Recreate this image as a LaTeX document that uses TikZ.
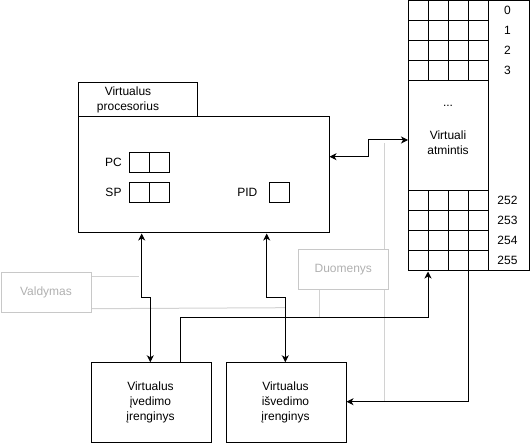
\documentclass[tikz,border=0pt]{standalone}
\usepackage{fontspec}
\setmainfont{Liberation Sans}
\usetikzlibrary{arrows.meta,calc}
\definecolor{gbord}{HTML}{C8C8C8}
\definecolor{gtext}{HTML}{B0B0B0}
\definecolor{gline}{HTML}{D2D2D2}
\begin{document}
\begin{tikzpicture}[x=1pt,y=-1pt,line width=1pt,
  box/.style={draw=black,rectangle,inner sep=0pt,anchor=north west},
  ghost/.style={draw=gbord,rectangle,inner sep=0pt,anchor=north west,minimum width=90pt,minimum height=40pt},
  lbl/.style={font=\fontsize{12}{15}\selectfont,align=center,inner sep=0pt},
  glbl/.style={lbl,text=gtext},
  conn/.style={draw=black,line width=1pt},
  glink/.style={draw=gline,line width=1pt},
  >={Stealth[length=7pt,width=7pt,inset=2pt]}
]
\useasboundingbox (0,0) rectangle (530,446);

% memory
\node[box,minimum width=121pt,minimum height=270pt] (mem) at (408,0.5) {};
\draw (488,0.5) -- (488,270.5);
\foreach \y in {20.5,40.5,60.5,80.5,190.5,210.5,230.5,250.5}
  \draw (408,\y) -- (488,\y);
\foreach \x in {428,448,468}{
  \draw (\x,0.5) -- (\x,80.5);
  \draw (\x,190.5) -- (\x,270.5);
}
\foreach \t/\y in {0/10.5,1/30.5,2/50.5,3/70.5,252/200.5,253/220.5,254/240.5,255/260.5}
  \node[lbl] (m\t) at (507.5,\y) {\t};
\node[lbl] (dots) at (448,106) {...};
\node[lbl] (memtxt) at (448,142.5) {Virtuali\\atmintis};

% processor
\node[box,minimum width=118.5pt,minimum height=34pt] (tab) at (78,82.5) {};
\node[lbl] (tabtxt) at (128,99.5) {Virtualus\\procesorius};
\node[box,minimum width=250.5pt,minimum height=116pt] (proc) at (78,116.5) {};
\node[lbl] (pclbl) at (113.5,162.3) {PC};
\node[lbl] (splbl) at (113.5,192.3) {SP};
\node[lbl] (pidlbl) at (247.3,192.3) {PID};
\node[box,minimum width=20pt,minimum height=20pt] (pcA) at (128.7,152.3) {};
\node[box,minimum width=20pt,minimum height=20pt] (pcB) at (148.7,152.3) {};
\node[box,minimum width=20pt,minimum height=20pt] (spA) at (128.7,182.3) {};
\node[box,minimum width=20pt,minimum height=20pt] (spB) at (148.7,182.3) {};
\node[box,minimum width=20pt,minimum height=20pt] (pid) at (268.7,182.3) {};

% devices
\node[box,minimum width=120pt,minimum height=80pt] (in) at (90.5,362.3) {};
\node[lbl] (intxt) at (150.5,402) {Virtualus\\įvedimo\\įrenginys};
\node[box,minimum width=120pt,minimum height=80pt] (out) at (225.5,362.3) {};
\node[lbl] (outtxt) at (285.5,402) {Virtualus\\išvedimo\\įrenginys};

% gray labels
\node[ghost] (vald) at (1,272.3) {};
\node[glbl] (valdtxt) at (46,292.3) {Valdymas};
\node[ghost] (duom) at (298.3,249.3) {};
\node[glbl] (duomtxt) at (343.3,269.3) {Duomenys};

% gray links
\draw[glink] ($(vald.north east)+(0,4)$) -- (139.3,276.3);
\draw[glink] ($(vald.south east)+(0,-4.6)$) -- (285,307.7);
\draw[glink] ($(duom.south west)+(21,0)$) -- (319.3,317.3);
\coordinate (gtop) at (384.5,143.3);
\coordinate (gbot) at (384.5,401.7);
\draw[glink] (gtop) -- (gtop |- duom.north);
\draw[glink] (gbot |- duom.south) -- (gbot);

% connectors
\draw[conn,<->] ($(proc.north east)+(0,40.2)$) -- (368.3,156.7) -- (368.3,140) -- (mem.west |- 0,140);
\draw[conn,<->] ($(proc.south west)+(63.7,0)$) -- (141.7,297.3) -- (150.3,297.3) -- ($(in.north west)+(59.8,0)$);
\draw[conn,<->] ($(proc.south west)+(188.7,0)$) -- (266.7,297.3) -- (285.3,297.3) -- ($(out.north west)+(59.8,0)$);
\draw[conn,->] ($(in.north west)+(90.2,0)$) -- (180.7,317.3) -- (428,317.3) -- ($(mem.south west)+(20,0)$);
\draw[conn,->] ($(mem.south west)+(60,0)$) -- (468,401.7) -- (out.east |- 0,401.7);
\end{tikzpicture}
\end{document}
